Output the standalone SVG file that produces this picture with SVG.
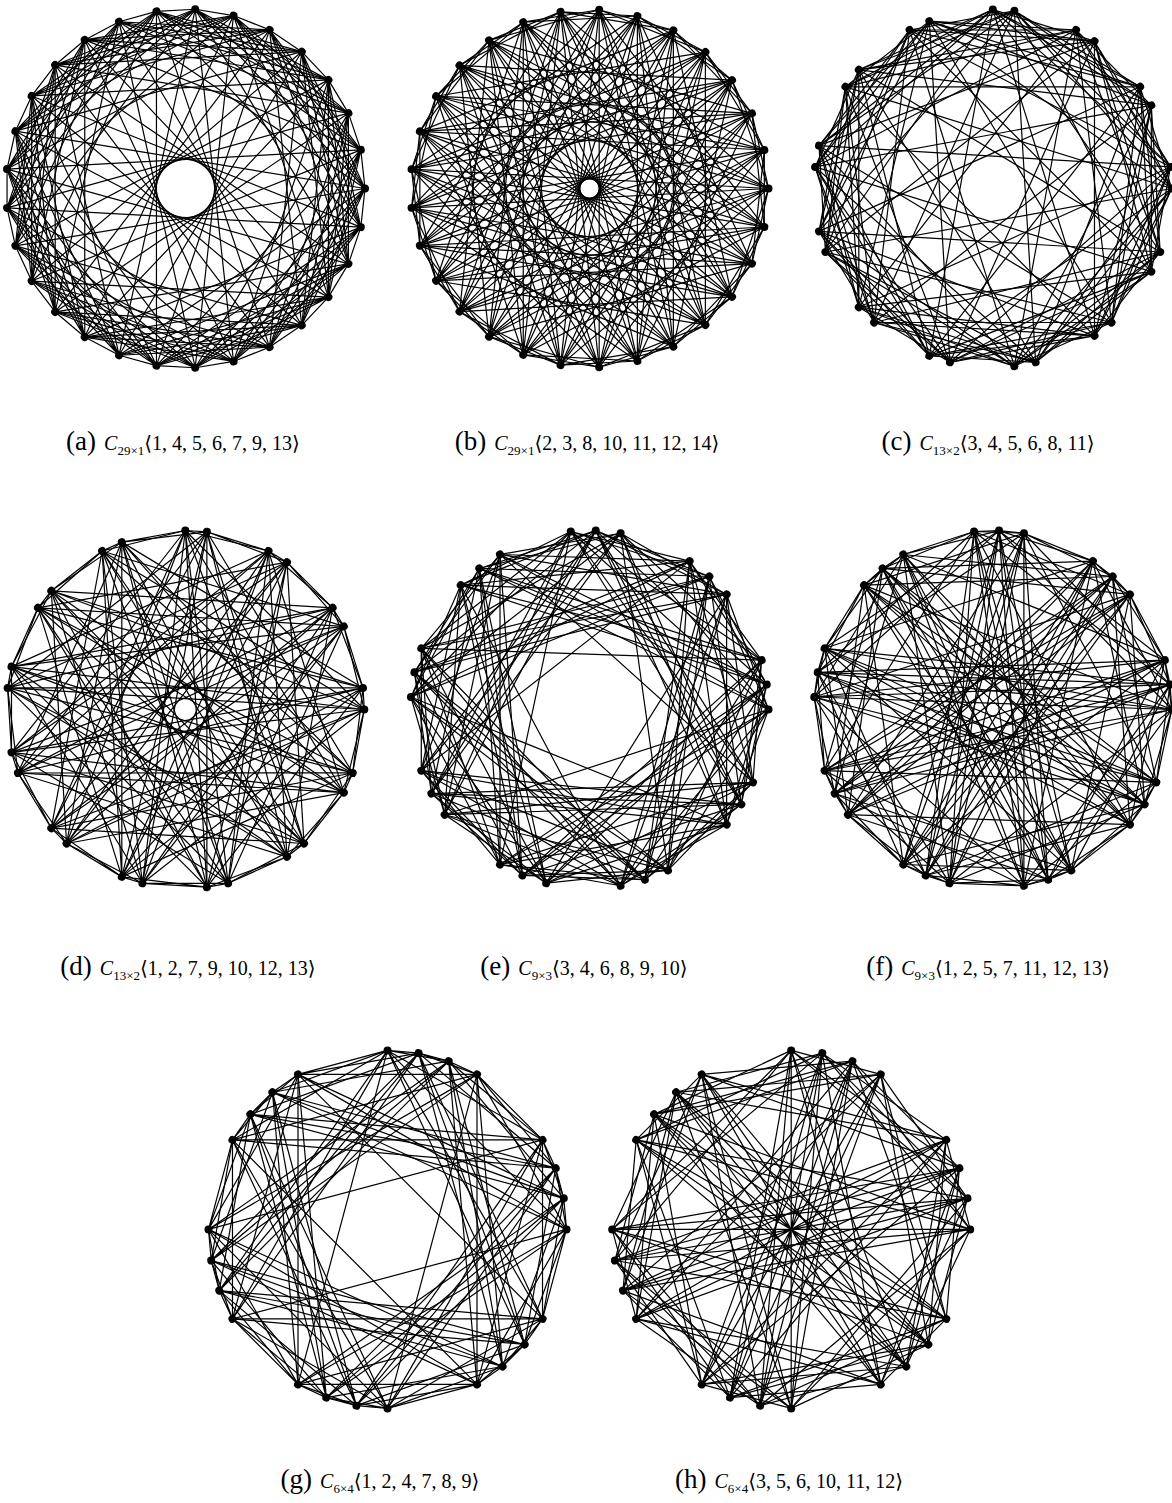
<svg xmlns="http://www.w3.org/2000/svg" width="1172" height="1503" viewBox="0 0 1172 1503">
<style>
.e{fill:none;stroke:#000;stroke-width:1.2}
.v{fill:#000}
.cap{font-family:"Liberation Serif","DejaVu Serif",serif;fill:#000}
.lb{font-size:27px}
.ci{font-size:20px;font-style:italic}
.sb{font-size:13px}
.ar{font-size:20px}
</style>
<rect width="1172" height="1503" fill="#fff"/>
<defs>
<path id="a-u" class="e" d="M179.5 0L175.3 38.59M179.5 0L116.21 136.81M179.5 0L84.08 158.59M179.5 0L48.02 172.96M179.5 0L9.72 179.24M179.5 0L-66.44 166.75M179.5 0L-170.1 57.31"/>
<path id="b-u" class="e" d="M179 0L162.46 75.16M179 0L142.5 108.33M179 0L-28.96 176.64M179 0L-100.45 148.16M179 0L-129.95 123.1M179 0L-153.38 92.28M179 0L-177.95 19.35"/>
<g id="c-u" class="e">
<path d="M179 0L147.31 101.68M179 0L101.68 147.31M179 0L83.19 158.5M179 0L21.58 177.7M179 0L-63.47 167.37M179 0L-147.31 101.68"/>
<path transform="rotate(6.9231)" d="M179 0L118.7 133.98M179 0L101.68 147.31M179 0L42.84 173.8M179 0L21.58 177.7M179 0L-63.47 167.37M179 0L-167.37 63.47"/>
</g>
<g id="d-u" class="e">
<path d="M179 0L177.7 21.58M179 0L158.5 83.19M179 0L0 179M179 0L-83.19 158.5M179 0L-133.98 118.7M179 0L-173.8 42.84M179 0L-177.7 21.58"/>
<path transform="rotate(6.9231)" d="M179 0L167.37 63.47M179 0L158.5 83.19M179 0L-42.84 173.8M179 0L-118.7 133.98M179 0L-133.98 118.7M179 0L-173.8 42.84"/>
</g>
<g id="e-u" class="e">
<path d="M179 0L137.12 115.06M179 0L119.77 133.02M179 0L31.08 176.28M179 0L-18.71 178.02M179 0L-89.5 155.02M179 0L-110.2 141.05"/>
<path transform="rotate(8)" d="M179 0L137.12 115.06M179 0L119.77 133.02M179 0L31.08 176.28M179 0L-67.05 165.97M179 0L-89.5 155.02M179 0L-110.2 141.05"/>
<path transform="rotate(16)" d="M179 0L137.12 115.06M179 0L78.47 160.88M179 0L31.08 176.28M179 0L-67.05 165.97M179 0L-89.5 155.02M179 0L-144.81 105.21"/>
</g>
<g id="f-u" class="e">
<path d="M179 0L177.26 24.91M179 0L172.07 49.34M179 0L100.1 148.4M179 0L6.25 178.89M179 0L-128.76 124.34M179 0L-168.21 61.22M179 0L-175.09 37.22"/>
<path transform="rotate(8)" d="M179 0L177.26 24.91M179 0L151.8 94.86M179 0L55.31 170.24M179 0L6.25 178.89M179 0L-158.05 84.04M179 0L-168.21 61.22M179 0L-175.09 37.22"/>
<path transform="rotate(16)" d="M179 0L163.52 72.81M179 0L151.8 94.86M179 0L55.31 170.24M179 0L-43.3 173.68M179 0L-158.05 84.04M179 0L-168.21 61.22M179 0L-178.56 -12.49"/>
</g>
<g id="g-u" class="e">
<path d="M179 0L176.28 31.08M179 0L168.21 61.22M179 0L89.5 155.02M179 0L0 179M179 0L-89.5 155.02M179 0L-115.06 137.12"/>
<path transform="rotate(10)" d="M179 0L176.28 31.08M179 0L168.21 61.22M179 0L89.5 155.02M179 0L-61.22 168.21M179 0L-89.5 155.02M179 0L-115.06 137.12"/>
<path transform="rotate(20)" d="M179 0L176.28 31.08M179 0L137.12 115.06M179 0L89.5 155.02M179 0L-61.22 168.21M179 0L-89.5 155.02M179 0L-115.06 137.12"/>
<path transform="rotate(30)" d="M179 0L155.02 89.5M179 0L137.12 115.06M179 0L89.5 155.02M179 0L-61.22 168.21M179 0L-89.5 155.02M179 0L-155.02 89.5"/>
</g>
<g id="h-u" class="e">
<path d="M179 0L155.02 89.5M179 0L61.22 168.21M179 0L31.08 176.28M179 0L-137.12 115.06M179 0L-155.02 89.5"/>
<path transform="rotate(10)" d="M179 0L115.06 137.12M179 0L61.22 168.21M179 0L31.08 176.28M179 0L-137.12 115.06M179 0L-176.28 31.08"/>
<path transform="rotate(20)" d="M179 0L115.06 137.12M179 0L61.22 168.21M179 0L-31.08 176.28M179 0L-168.21 61.22M179 0L-176.28 31.08"/>
<path transform="rotate(30)" d="M179 0L115.06 137.12M179 0L0 179M179 0L-31.08 176.28M179 0L-168.21 61.22M179 0L-176.28 31.08"/>
</g>
<path id="h-d" class="e" d="M179 0L-179 0M176.28 31.08L-176.28 -31.08M168.21 61.22L-168.21 -61.22M155.02 89.5L-155.02 -89.5"/>
</defs>

<g id="connectors">
<g id="a-edges" transform="translate(185.5 188.5)">
<use href="#a-u"/><use href="#a-u" transform="rotate(12.414)"/><use href="#a-u" transform="rotate(24.828)"/><use href="#a-u" transform="rotate(37.241)"/><use href="#a-u" transform="rotate(49.655)"/><use href="#a-u" transform="rotate(62.069)"/><use href="#a-u" transform="rotate(74.483)"/><use href="#a-u" transform="rotate(86.897)"/><use href="#a-u" transform="rotate(99.31)"/><use href="#a-u" transform="rotate(111.724)"/><use href="#a-u" transform="rotate(124.138)"/><use href="#a-u" transform="rotate(136.552)"/><use href="#a-u" transform="rotate(148.966)"/><use href="#a-u" transform="rotate(161.379)"/><use href="#a-u" transform="rotate(173.793)"/><use href="#a-u" transform="rotate(186.207)"/><use href="#a-u" transform="rotate(198.621)"/><use href="#a-u" transform="rotate(211.034)"/><use href="#a-u" transform="rotate(223.448)"/><use href="#a-u" transform="rotate(235.862)"/><use href="#a-u" transform="rotate(248.276)"/><use href="#a-u" transform="rotate(260.69)"/><use href="#a-u" transform="rotate(273.103)"/><use href="#a-u" transform="rotate(285.517)"/><use href="#a-u" transform="rotate(297.931)"/><use href="#a-u" transform="rotate(310.345)"/><use href="#a-u" transform="rotate(322.759)"/><use href="#a-u" transform="rotate(335.172)"/><use href="#a-u" transform="rotate(347.586)"/>
</g>
<g id="b-edges" transform="translate(589.5 188.5)">
<use href="#b-u"/><use href="#b-u" transform="rotate(12.414)"/><use href="#b-u" transform="rotate(24.828)"/><use href="#b-u" transform="rotate(37.241)"/><use href="#b-u" transform="rotate(49.655)"/><use href="#b-u" transform="rotate(62.069)"/><use href="#b-u" transform="rotate(74.483)"/><use href="#b-u" transform="rotate(86.897)"/><use href="#b-u" transform="rotate(99.31)"/><use href="#b-u" transform="rotate(111.724)"/><use href="#b-u" transform="rotate(124.138)"/><use href="#b-u" transform="rotate(136.552)"/><use href="#b-u" transform="rotate(148.966)"/><use href="#b-u" transform="rotate(161.379)"/><use href="#b-u" transform="rotate(173.793)"/><use href="#b-u" transform="rotate(186.207)"/><use href="#b-u" transform="rotate(198.621)"/><use href="#b-u" transform="rotate(211.034)"/><use href="#b-u" transform="rotate(223.448)"/><use href="#b-u" transform="rotate(235.862)"/><use href="#b-u" transform="rotate(248.276)"/><use href="#b-u" transform="rotate(260.69)"/><use href="#b-u" transform="rotate(273.103)"/><use href="#b-u" transform="rotate(285.517)"/><use href="#b-u" transform="rotate(297.931)"/><use href="#b-u" transform="rotate(310.345)"/><use href="#b-u" transform="rotate(322.759)"/><use href="#b-u" transform="rotate(335.172)"/><use href="#b-u" transform="rotate(347.586)"/>
</g>
<g id="c-edges" transform="translate(992.8 188.5) rotate(-90)">
<use href="#c-u"/><use href="#c-u" transform="rotate(27.6923)"/><use href="#c-u" transform="rotate(55.3846)"/><use href="#c-u" transform="rotate(83.0769)"/><use href="#c-u" transform="rotate(110.7692)"/><use href="#c-u" transform="rotate(138.4615)"/><use href="#c-u" transform="rotate(166.1538)"/><use href="#c-u" transform="rotate(193.8462)"/><use href="#c-u" transform="rotate(221.5385)"/><use href="#c-u" transform="rotate(249.2308)"/><use href="#c-u" transform="rotate(276.9231)"/><use href="#c-u" transform="rotate(304.6154)"/><use href="#c-u" transform="rotate(332.3077)"/>
</g>
<g id="d-edges" transform="translate(185.3 709.5) rotate(-90)">
<use href="#d-u"/><use href="#d-u" transform="rotate(27.6923)"/><use href="#d-u" transform="rotate(55.3846)"/><use href="#d-u" transform="rotate(83.0769)"/><use href="#d-u" transform="rotate(110.7692)"/><use href="#d-u" transform="rotate(138.4615)"/><use href="#d-u" transform="rotate(166.1538)"/><use href="#d-u" transform="rotate(193.8462)"/><use href="#d-u" transform="rotate(221.5385)"/><use href="#d-u" transform="rotate(249.2308)"/><use href="#d-u" transform="rotate(276.9231)"/><use href="#d-u" transform="rotate(304.6154)"/><use href="#d-u" transform="rotate(332.3077)"/>
</g>
<g id="e-edges" transform="translate(589.5 709.5) rotate(-96)">
<use href="#e-u"/><use href="#e-u" transform="rotate(40)"/><use href="#e-u" transform="rotate(80)"/><use href="#e-u" transform="rotate(120)"/><use href="#e-u" transform="rotate(160)"/><use href="#e-u" transform="rotate(200)"/><use href="#e-u" transform="rotate(240)"/><use href="#e-u" transform="rotate(280)"/><use href="#e-u" transform="rotate(320)"/>
</g>
<g id="f-edges" transform="translate(992.8 709.5) rotate(-96)">
<use href="#f-u"/><use href="#f-u" transform="rotate(40)"/><use href="#f-u" transform="rotate(80)"/><use href="#f-u" transform="rotate(120)"/><use href="#f-u" transform="rotate(160)"/><use href="#f-u" transform="rotate(200)"/><use href="#f-u" transform="rotate(240)"/><use href="#f-u" transform="rotate(280)"/><use href="#f-u" transform="rotate(320)"/>
</g>
<g id="g-edges" transform="translate(387.5 1229.4) rotate(-90)">
<use href="#g-u"/><use href="#g-u" transform="rotate(60)"/><use href="#g-u" transform="rotate(120)"/><use href="#g-u" transform="rotate(180)"/><use href="#g-u" transform="rotate(240)"/><use href="#g-u" transform="rotate(300)"/>
</g>
<g id="h-edges" transform="translate(791.2 1229.4) rotate(-90)">
<use href="#h-u"/><use href="#h-u" transform="rotate(60)"/><use href="#h-u" transform="rotate(120)"/><use href="#h-u" transform="rotate(180)"/><use href="#h-u" transform="rotate(240)"/><use href="#h-u" transform="rotate(300)"/>
<use href="#h-d"/><use href="#h-d" transform="rotate(60)"/><use href="#h-d" transform="rotate(120)"/>
</g>
</g>

<g id="nodes-a" transform="translate(185.5 188.5)">
<circle id="a0" class="v" r="4" cx="179.5"/><circle id="a1" class="v" r="4" cx="179.5" transform="rotate(12.414)"/><circle id="a2" class="v" r="4" cx="179.5" transform="rotate(24.828)"/><circle id="a3" class="v" r="4" cx="179.5" transform="rotate(37.241)"/><circle id="a4" class="v" r="4" cx="179.5" transform="rotate(49.655)"/><circle id="a5" class="v" r="4" cx="179.5" transform="rotate(62.069)"/><circle id="a6" class="v" r="4" cx="179.5" transform="rotate(74.483)"/><circle id="a7" class="v" r="4" cx="179.5" transform="rotate(86.897)"/><circle id="a8" class="v" r="4" cx="179.5" transform="rotate(99.31)"/><circle id="a9" class="v" r="4" cx="179.5" transform="rotate(111.724)"/><circle id="a10" class="v" r="4" cx="179.5" transform="rotate(124.138)"/><circle id="a11" class="v" r="4" cx="179.5" transform="rotate(136.552)"/><circle id="a12" class="v" r="4" cx="179.5" transform="rotate(148.966)"/><circle id="a13" class="v" r="4" cx="179.5" transform="rotate(161.379)"/><circle id="a14" class="v" r="4" cx="179.5" transform="rotate(173.793)"/><circle id="a15" class="v" r="4" cx="179.5" transform="rotate(186.207)"/><circle id="a16" class="v" r="4" cx="179.5" transform="rotate(198.621)"/><circle id="a17" class="v" r="4" cx="179.5" transform="rotate(211.034)"/><circle id="a18" class="v" r="4" cx="179.5" transform="rotate(223.448)"/><circle id="a19" class="v" r="4" cx="179.5" transform="rotate(235.862)"/><circle id="a20" class="v" r="4" cx="179.5" transform="rotate(248.276)"/><circle id="a21" class="v" r="4" cx="179.5" transform="rotate(260.69)"/><circle id="a22" class="v" r="4" cx="179.5" transform="rotate(273.103)"/><circle id="a23" class="v" r="4" cx="179.5" transform="rotate(285.517)"/><circle id="a24" class="v" r="4" cx="179.5" transform="rotate(297.931)"/><circle id="a25" class="v" r="4" cx="179.5" transform="rotate(310.345)"/><circle id="a26" class="v" r="4" cx="179.5" transform="rotate(322.759)"/><circle id="a27" class="v" r="4" cx="179.5" transform="rotate(335.172)"/><circle id="a28" class="v" r="4" cx="179.5" transform="rotate(347.586)"/>
</g>
<g id="nodes-b" transform="translate(589.5 188.5)">
<circle id="b0" class="v" r="4" cx="179"/><circle id="b1" class="v" r="4" cx="179" transform="rotate(12.414)"/><circle id="b2" class="v" r="4" cx="179" transform="rotate(24.828)"/><circle id="b3" class="v" r="4" cx="179" transform="rotate(37.241)"/><circle id="b4" class="v" r="4" cx="179" transform="rotate(49.655)"/><circle id="b5" class="v" r="4" cx="179" transform="rotate(62.069)"/><circle id="b6" class="v" r="4" cx="179" transform="rotate(74.483)"/><circle id="b7" class="v" r="4" cx="179" transform="rotate(86.897)"/><circle id="b8" class="v" r="4" cx="179" transform="rotate(99.31)"/><circle id="b9" class="v" r="4" cx="179" transform="rotate(111.724)"/><circle id="b10" class="v" r="4" cx="179" transform="rotate(124.138)"/><circle id="b11" class="v" r="4" cx="179" transform="rotate(136.552)"/><circle id="b12" class="v" r="4" cx="179" transform="rotate(148.966)"/><circle id="b13" class="v" r="4" cx="179" transform="rotate(161.379)"/><circle id="b14" class="v" r="4" cx="179" transform="rotate(173.793)"/><circle id="b15" class="v" r="4" cx="179" transform="rotate(186.207)"/><circle id="b16" class="v" r="4" cx="179" transform="rotate(198.621)"/><circle id="b17" class="v" r="4" cx="179" transform="rotate(211.034)"/><circle id="b18" class="v" r="4" cx="179" transform="rotate(223.448)"/><circle id="b19" class="v" r="4" cx="179" transform="rotate(235.862)"/><circle id="b20" class="v" r="4" cx="179" transform="rotate(248.276)"/><circle id="b21" class="v" r="4" cx="179" transform="rotate(260.69)"/><circle id="b22" class="v" r="4" cx="179" transform="rotate(273.103)"/><circle id="b23" class="v" r="4" cx="179" transform="rotate(285.517)"/><circle id="b24" class="v" r="4" cx="179" transform="rotate(297.931)"/><circle id="b25" class="v" r="4" cx="179" transform="rotate(310.345)"/><circle id="b26" class="v" r="4" cx="179" transform="rotate(322.759)"/><circle id="b27" class="v" r="4" cx="179" transform="rotate(335.172)"/><circle id="b28" class="v" r="4" cx="179" transform="rotate(347.586)"/>
</g>
<g id="nodes-c" transform="translate(992.8 188.5) rotate(-90)">
<circle id="c0" class="v" r="4" cx="179"/><circle id="c1" class="v" r="4" cx="179" transform="rotate(6.9231)"/><circle id="c2" class="v" r="4" cx="179" transform="rotate(27.6923)"/><circle id="c3" class="v" r="4" cx="179" transform="rotate(34.6154)"/><circle id="c4" class="v" r="4" cx="179" transform="rotate(55.3846)"/><circle id="c5" class="v" r="4" cx="179" transform="rotate(62.3077)"/><circle id="c6" class="v" r="4" cx="179" transform="rotate(83.0769)"/><circle id="c7" class="v" r="4" cx="179" transform="rotate(90)"/><circle id="c8" class="v" r="4" cx="179" transform="rotate(110.7692)"/><circle id="c9" class="v" r="4" cx="179" transform="rotate(117.6923)"/><circle id="c10" class="v" r="4" cx="179" transform="rotate(138.4615)"/><circle id="c11" class="v" r="4" cx="179" transform="rotate(145.3846)"/><circle id="c12" class="v" r="4" cx="179" transform="rotate(166.1538)"/><circle id="c13" class="v" r="4" cx="179" transform="rotate(173.0769)"/><circle id="c14" class="v" r="4" cx="179" transform="rotate(193.8462)"/><circle id="c15" class="v" r="4" cx="179" transform="rotate(200.7692)"/><circle id="c16" class="v" r="4" cx="179" transform="rotate(221.5385)"/><circle id="c17" class="v" r="4" cx="179" transform="rotate(228.4615)"/><circle id="c18" class="v" r="4" cx="179" transform="rotate(249.2308)"/><circle id="c19" class="v" r="4" cx="179" transform="rotate(256.1538)"/><circle id="c20" class="v" r="4" cx="179" transform="rotate(276.9231)"/><circle id="c21" class="v" r="4" cx="179" transform="rotate(283.8462)"/><circle id="c22" class="v" r="4" cx="179" transform="rotate(304.6154)"/><circle id="c23" class="v" r="4" cx="179" transform="rotate(311.5385)"/><circle id="c24" class="v" r="4" cx="179" transform="rotate(332.3077)"/><circle id="c25" class="v" r="4" cx="179" transform="rotate(339.2308)"/>
</g>
<g id="nodes-d" transform="translate(185.3 709.5) rotate(-90)">
<circle id="d0" class="v" r="4" cx="179"/><circle id="d1" class="v" r="4" cx="179" transform="rotate(6.9231)"/><circle id="d2" class="v" r="4" cx="179" transform="rotate(27.6923)"/><circle id="d3" class="v" r="4" cx="179" transform="rotate(34.6154)"/><circle id="d4" class="v" r="4" cx="179" transform="rotate(55.3846)"/><circle id="d5" class="v" r="4" cx="179" transform="rotate(62.3077)"/><circle id="d6" class="v" r="4" cx="179" transform="rotate(83.0769)"/><circle id="d7" class="v" r="4" cx="179" transform="rotate(90)"/><circle id="d8" class="v" r="4" cx="179" transform="rotate(110.7692)"/><circle id="d9" class="v" r="4" cx="179" transform="rotate(117.6923)"/><circle id="d10" class="v" r="4" cx="179" transform="rotate(138.4615)"/><circle id="d11" class="v" r="4" cx="179" transform="rotate(145.3846)"/><circle id="d12" class="v" r="4" cx="179" transform="rotate(166.1538)"/><circle id="d13" class="v" r="4" cx="179" transform="rotate(173.0769)"/><circle id="d14" class="v" r="4" cx="179" transform="rotate(193.8462)"/><circle id="d15" class="v" r="4" cx="179" transform="rotate(200.7692)"/><circle id="d16" class="v" r="4" cx="179" transform="rotate(221.5385)"/><circle id="d17" class="v" r="4" cx="179" transform="rotate(228.4615)"/><circle id="d18" class="v" r="4" cx="179" transform="rotate(249.2308)"/><circle id="d19" class="v" r="4" cx="179" transform="rotate(256.1538)"/><circle id="d20" class="v" r="4" cx="179" transform="rotate(276.9231)"/><circle id="d21" class="v" r="4" cx="179" transform="rotate(283.8462)"/><circle id="d22" class="v" r="4" cx="179" transform="rotate(304.6154)"/><circle id="d23" class="v" r="4" cx="179" transform="rotate(311.5385)"/><circle id="d24" class="v" r="4" cx="179" transform="rotate(332.3077)"/><circle id="d25" class="v" r="4" cx="179" transform="rotate(339.2308)"/>
</g>
<g id="nodes-e" transform="translate(589.5 709.5) rotate(-96)">
<circle id="e0" class="v" r="4" cx="179"/><circle id="e1" class="v" r="4" cx="179" transform="rotate(8)"/><circle id="e2" class="v" r="4" cx="179" transform="rotate(16)"/><circle id="e3" class="v" r="4" cx="179" transform="rotate(40)"/><circle id="e4" class="v" r="4" cx="179" transform="rotate(48)"/><circle id="e5" class="v" r="4" cx="179" transform="rotate(56)"/><circle id="e6" class="v" r="4" cx="179" transform="rotate(80)"/><circle id="e7" class="v" r="4" cx="179" transform="rotate(88)"/><circle id="e8" class="v" r="4" cx="179" transform="rotate(96)"/><circle id="e9" class="v" r="4" cx="179" transform="rotate(120)"/><circle id="e10" class="v" r="4" cx="179" transform="rotate(128)"/><circle id="e11" class="v" r="4" cx="179" transform="rotate(136)"/><circle id="e12" class="v" r="4" cx="179" transform="rotate(160)"/><circle id="e13" class="v" r="4" cx="179" transform="rotate(168)"/><circle id="e14" class="v" r="4" cx="179" transform="rotate(176)"/><circle id="e15" class="v" r="4" cx="179" transform="rotate(200)"/><circle id="e16" class="v" r="4" cx="179" transform="rotate(208)"/><circle id="e17" class="v" r="4" cx="179" transform="rotate(216)"/><circle id="e18" class="v" r="4" cx="179" transform="rotate(240)"/><circle id="e19" class="v" r="4" cx="179" transform="rotate(248)"/><circle id="e20" class="v" r="4" cx="179" transform="rotate(256)"/><circle id="e21" class="v" r="4" cx="179" transform="rotate(280)"/><circle id="e22" class="v" r="4" cx="179" transform="rotate(288)"/><circle id="e23" class="v" r="4" cx="179" transform="rotate(296)"/><circle id="e24" class="v" r="4" cx="179" transform="rotate(320)"/><circle id="e25" class="v" r="4" cx="179" transform="rotate(328)"/><circle id="e26" class="v" r="4" cx="179" transform="rotate(336)"/>
</g>
<g id="nodes-f" transform="translate(992.8 709.5) rotate(-96)">
<circle id="f0" class="v" r="4" cx="179"/><circle id="f1" class="v" r="4" cx="179" transform="rotate(8)"/><circle id="f2" class="v" r="4" cx="179" transform="rotate(16)"/><circle id="f3" class="v" r="4" cx="179" transform="rotate(40)"/><circle id="f4" class="v" r="4" cx="179" transform="rotate(48)"/><circle id="f5" class="v" r="4" cx="179" transform="rotate(56)"/><circle id="f6" class="v" r="4" cx="179" transform="rotate(80)"/><circle id="f7" class="v" r="4" cx="179" transform="rotate(88)"/><circle id="f8" class="v" r="4" cx="179" transform="rotate(96)"/><circle id="f9" class="v" r="4" cx="179" transform="rotate(120)"/><circle id="f10" class="v" r="4" cx="179" transform="rotate(128)"/><circle id="f11" class="v" r="4" cx="179" transform="rotate(136)"/><circle id="f12" class="v" r="4" cx="179" transform="rotate(160)"/><circle id="f13" class="v" r="4" cx="179" transform="rotate(168)"/><circle id="f14" class="v" r="4" cx="179" transform="rotate(176)"/><circle id="f15" class="v" r="4" cx="179" transform="rotate(200)"/><circle id="f16" class="v" r="4" cx="179" transform="rotate(208)"/><circle id="f17" class="v" r="4" cx="179" transform="rotate(216)"/><circle id="f18" class="v" r="4" cx="179" transform="rotate(240)"/><circle id="f19" class="v" r="4" cx="179" transform="rotate(248)"/><circle id="f20" class="v" r="4" cx="179" transform="rotate(256)"/><circle id="f21" class="v" r="4" cx="179" transform="rotate(280)"/><circle id="f22" class="v" r="4" cx="179" transform="rotate(288)"/><circle id="f23" class="v" r="4" cx="179" transform="rotate(296)"/><circle id="f24" class="v" r="4" cx="179" transform="rotate(320)"/><circle id="f25" class="v" r="4" cx="179" transform="rotate(328)"/><circle id="f26" class="v" r="4" cx="179" transform="rotate(336)"/>
</g>
<g id="nodes-g" transform="translate(387.5 1229.4) rotate(-90)">
<circle id="g0" class="v" r="4" cx="179"/><circle id="g1" class="v" r="4" cx="179" transform="rotate(10)"/><circle id="g2" class="v" r="4" cx="179" transform="rotate(20)"/><circle id="g3" class="v" r="4" cx="179" transform="rotate(30)"/><circle id="g4" class="v" r="4" cx="179" transform="rotate(60)"/><circle id="g5" class="v" r="4" cx="179" transform="rotate(70)"/><circle id="g6" class="v" r="4" cx="179" transform="rotate(80)"/><circle id="g7" class="v" r="4" cx="179" transform="rotate(90)"/><circle id="g8" class="v" r="4" cx="179" transform="rotate(120)"/><circle id="g9" class="v" r="4" cx="179" transform="rotate(130)"/><circle id="g10" class="v" r="4" cx="179" transform="rotate(140)"/><circle id="g11" class="v" r="4" cx="179" transform="rotate(150)"/><circle id="g12" class="v" r="4" cx="179" transform="rotate(180)"/><circle id="g13" class="v" r="4" cx="179" transform="rotate(190)"/><circle id="g14" class="v" r="4" cx="179" transform="rotate(200)"/><circle id="g15" class="v" r="4" cx="179" transform="rotate(210)"/><circle id="g16" class="v" r="4" cx="179" transform="rotate(240)"/><circle id="g17" class="v" r="4" cx="179" transform="rotate(250)"/><circle id="g18" class="v" r="4" cx="179" transform="rotate(260)"/><circle id="g19" class="v" r="4" cx="179" transform="rotate(270)"/><circle id="g20" class="v" r="4" cx="179" transform="rotate(300)"/><circle id="g21" class="v" r="4" cx="179" transform="rotate(310)"/><circle id="g22" class="v" r="4" cx="179" transform="rotate(320)"/><circle id="g23" class="v" r="4" cx="179" transform="rotate(330)"/>
</g>
<g id="nodes-h" transform="translate(791.2 1229.4) rotate(-90)">
<circle id="h0" class="v" r="4" cx="179"/><circle id="h1" class="v" r="4" cx="179" transform="rotate(10)"/><circle id="h2" class="v" r="4" cx="179" transform="rotate(20)"/><circle id="h3" class="v" r="4" cx="179" transform="rotate(30)"/><circle id="h4" class="v" r="4" cx="179" transform="rotate(60)"/><circle id="h5" class="v" r="4" cx="179" transform="rotate(70)"/><circle id="h6" class="v" r="4" cx="179" transform="rotate(80)"/><circle id="h7" class="v" r="4" cx="179" transform="rotate(90)"/><circle id="h8" class="v" r="4" cx="179" transform="rotate(120)"/><circle id="h9" class="v" r="4" cx="179" transform="rotate(130)"/><circle id="h10" class="v" r="4" cx="179" transform="rotate(140)"/><circle id="h11" class="v" r="4" cx="179" transform="rotate(150)"/><circle id="h12" class="v" r="4" cx="179" transform="rotate(180)"/><circle id="h13" class="v" r="4" cx="179" transform="rotate(190)"/><circle id="h14" class="v" r="4" cx="179" transform="rotate(200)"/><circle id="h15" class="v" r="4" cx="179" transform="rotate(210)"/><circle id="h16" class="v" r="4" cx="179" transform="rotate(240)"/><circle id="h17" class="v" r="4" cx="179" transform="rotate(250)"/><circle id="h18" class="v" r="4" cx="179" transform="rotate(260)"/><circle id="h19" class="v" r="4" cx="179" transform="rotate(270)"/><circle id="h20" class="v" r="4" cx="179" transform="rotate(300)"/><circle id="h21" class="v" r="4" cx="179" transform="rotate(310)"/><circle id="h22" class="v" r="4" cx="179" transform="rotate(320)"/><circle id="h23" class="v" r="4" cx="179" transform="rotate(330)"/>
</g>

<g id="captions" class="cap" text-anchor="middle">
<text x="183" y="450"><tspan class="lb">(a)</tspan><tspan class="ci" dx="8">C</tspan><tspan class="sb" dy="5">29×1</tspan><tspan class="ar" dy="-5">⟨1, 4, 5, 6, 7, 9, 13⟩</tspan></text>
<text x="587" y="450"><tspan class="lb">(b)</tspan><tspan class="ci" dx="8">C</tspan><tspan class="sb" dy="5">29×1</tspan><tspan class="ar" dy="-5">⟨2, 3, 8, 10, 11, 12, 14⟩</tspan></text>
<text x="988" y="450"><tspan class="lb">(c)</tspan><tspan class="ci" dx="8">C</tspan><tspan class="sb" dy="5">13×2</tspan><tspan class="ar" dy="-5">⟨3, 4, 5, 6, 8, 11⟩</tspan></text>
<text x="188" y="975"><tspan class="lb">(d)</tspan><tspan class="ci" dx="8">C</tspan><tspan class="sb" dy="5">13×2</tspan><tspan class="ar" dy="-5">⟨1, 2, 7, 9, 10, 12, 13⟩</tspan></text>
<text x="584" y="975"><tspan class="lb">(e)</tspan><tspan class="ci" dx="8">C</tspan><tspan class="sb" dy="5">9×3</tspan><tspan class="ar" dy="-5">⟨3, 4, 6, 8, 9, 10⟩</tspan></text>
<text x="988" y="975"><tspan class="lb">(f)</tspan><tspan class="ci" dx="8">C</tspan><tspan class="sb" dy="5">9×3</tspan><tspan class="ar" dy="-5">⟨1, 2, 5, 7, 11, 12, 13⟩</tspan></text>
<text x="380" y="1488"><tspan class="lb">(g)</tspan><tspan class="ci" dx="8">C</tspan><tspan class="sb" dy="5">6×4</tspan><tspan class="ar" dy="-5">⟨1, 2, 4, 7, 8, 9⟩</tspan></text>
<text x="789" y="1488"><tspan class="lb">(h)</tspan><tspan class="ci" dx="8">C</tspan><tspan class="sb" dy="5">6×4</tspan><tspan class="ar" dy="-5">⟨3, 5, 6, 10, 11, 12⟩</tspan></text>
</g>
</svg>
